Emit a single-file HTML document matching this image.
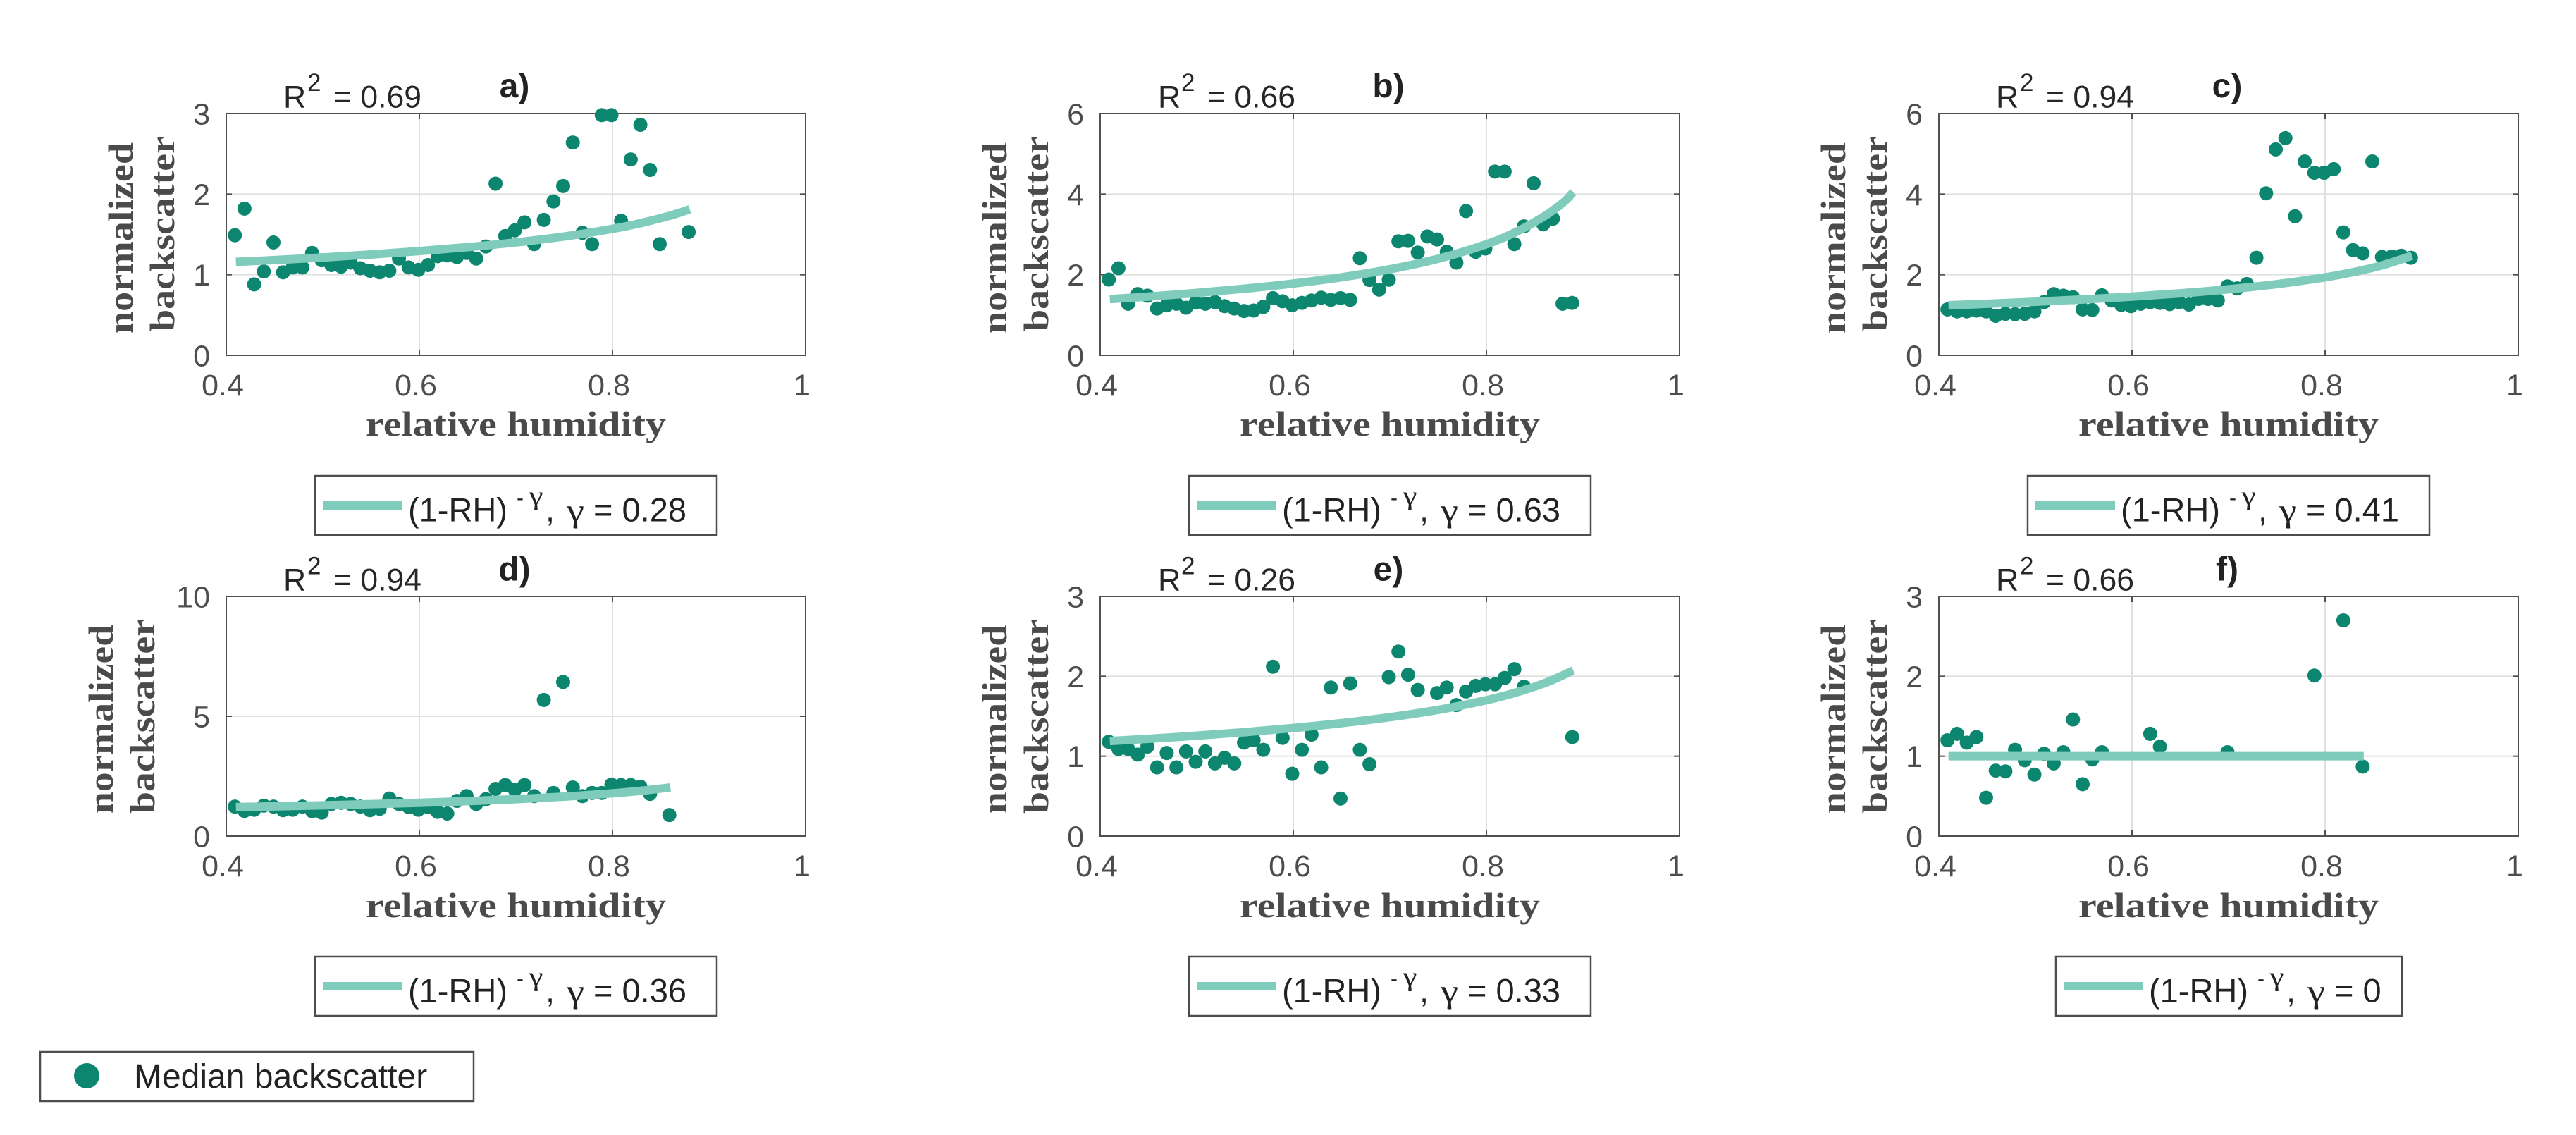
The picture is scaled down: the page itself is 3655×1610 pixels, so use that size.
<!DOCTYPE html>
<html lang="en">
<head>
<meta charset="utf-8">
<title>Normalized backscatter vs relative humidity</title>
<style>
html,body{margin:0;padding:0;background:#fff;}
svg{display:block;}
text{font-family:"Liberation Sans",sans-serif;}
.tick{font-size:43px;fill:#4d4d4d;}
.lab{font-family:"Liberation Serif",serif;font-weight:bold;font-size:50px;fill:#4a4a4a;}
.ttl{font-weight:bold;font-size:48px;fill:#222;text-anchor:middle;}
.r2{font-size:44.5px;fill:#262626;}
.r2s{font-size:35px;fill:#262626;}
.leg{font-size:47px;fill:#222;}
.legs{font-size:30px;fill:#222;}
.gam{font-family:"Liberation Serif",serif;font-size:47px;fill:#222;}
.gams{font-family:"Liberation Serif",serif;font-size:38px;fill:#222;}
.box{fill:#fff;stroke:#4d4d4d;stroke-width:2.5;}
</style>
</head>
<body>
<svg id="chart" xmlns="http://www.w3.org/2000/svg" width="3655" height="1610" viewBox="0 0 3655 1610">
<rect width="3655" height="1610" fill="#fff"/>

<g id="panel-a" transform="translate(321,161)">
  <g class="plot"></g>
  <text class="ttl" x="409" y="-23">a)</text>
  <text class="r2" x="81" y="-8.5">R</text>
  <text class="r2s" x="115" y="-32">2</text>
  <text class="r2" x="152" y="-8.5">= 0.69</text>
  <text class="lab" x="198" y="457" textLength="426" lengthAdjust="spacingAndGlyphs">relative humidity</text>
  <text class="lab" transform="translate(-133,312) rotate(-90)" textLength="271" lengthAdjust="spacingAndGlyphs">normalized</text>
  <text class="lab" transform="translate(-74,309) rotate(-90)" textLength="277" lengthAdjust="spacingAndGlyphs">backscatter</text>
  <g transform="translate(126,514)">
    <rect class="box" width="570" height="84"/>
    <line x1="11" x2="124" y1="42" y2="42" stroke="#80ccbc" stroke-width="12"/>
    <text class="leg" x="132" y="64.3">(1-RH)</text>
    <text class="legs" x="286" y="41">-</text>
    <text class="gams" x="303.5" y="41" textLength="20" lengthAdjust="spacingAndGlyphs">γ</text>
    <text class="leg" x="327" y="64.3">,</text>
    <text class="gam" x="357" y="64.3" textLength="25" lengthAdjust="spacingAndGlyphs">γ</text>
    <text class="leg" x="395" y="64.3">= 0.28</text>
  </g>
</g>

<g id="panel-b" transform="translate(1561,161)">
  <g class="plot"></g>
  <text class="ttl" x="409" y="-23">b)</text>
  <text class="r2" x="82" y="-8.5">R</text>
  <text class="r2s" x="115" y="-32">2</text>
  <text class="r2" x="152" y="-8.5">= 0.66</text>
  <text class="lab" x="198" y="457" textLength="426" lengthAdjust="spacingAndGlyphs">relative humidity</text>
  <text class="lab" transform="translate(-133,312) rotate(-90)" textLength="271" lengthAdjust="spacingAndGlyphs">normalized</text>
  <text class="lab" transform="translate(-74,309) rotate(-90)" textLength="277" lengthAdjust="spacingAndGlyphs">backscatter</text>
  <g transform="translate(126,514)">
    <rect class="box" width="570" height="84"/>
    <line x1="11" x2="124" y1="42" y2="42" stroke="#80ccbc" stroke-width="12"/>
    <text class="leg" x="132" y="64.3">(1-RH)</text>
    <text class="legs" x="286" y="41">-</text>
    <text class="gams" x="303.5" y="41" textLength="20" lengthAdjust="spacingAndGlyphs">γ</text>
    <text class="leg" x="327" y="64.3">,</text>
    <text class="gam" x="357" y="64.3" textLength="25" lengthAdjust="spacingAndGlyphs">γ</text>
    <text class="leg" x="395" y="64.3">= 0.63</text>
  </g>
</g>

<g id="panel-c" transform="translate(2751,161)">
  <g class="plot"></g>
  <text class="ttl" x="409" y="-23">c)</text>
  <text class="r2" x="81" y="-8.5">R</text>
  <text class="r2s" x="115" y="-32">2</text>
  <text class="r2" x="152" y="-8.5">= 0.94</text>
  <text class="lab" x="198" y="457" textLength="426" lengthAdjust="spacingAndGlyphs">relative humidity</text>
  <text class="lab" transform="translate(-133,312) rotate(-90)" textLength="271" lengthAdjust="spacingAndGlyphs">normalized</text>
  <text class="lab" transform="translate(-74,309) rotate(-90)" textLength="277" lengthAdjust="spacingAndGlyphs">backscatter</text>
  <g transform="translate(126,514)">
    <rect class="box" width="570" height="84"/>
    <line x1="11" x2="124" y1="42" y2="42" stroke="#80ccbc" stroke-width="12"/>
    <text class="leg" x="132" y="64.3">(1-RH)</text>
    <text class="legs" x="286" y="41">-</text>
    <text class="gams" x="303.5" y="41" textLength="20" lengthAdjust="spacingAndGlyphs">γ</text>
    <text class="leg" x="327" y="64.3">,</text>
    <text class="gam" x="357" y="64.3" textLength="25" lengthAdjust="spacingAndGlyphs">γ</text>
    <text class="leg" x="395" y="64.3">= 0.41</text>
  </g>
</g>

<g id="panel-d" transform="translate(321,846)">
  <g class="plot"></g>
  <text class="ttl" x="409" y="-22.5">d)</text>
  <text class="r2" x="81" y="-8.5">R</text>
  <text class="r2s" x="115" y="-31.5">2</text>
  <text class="r2" x="152" y="-8.5">= 0.94</text>
  <text class="lab" x="198" y="455" textLength="426" lengthAdjust="spacingAndGlyphs">relative humidity</text>
  <text class="lab" transform="translate(-161,308) rotate(-90)" textLength="268" lengthAdjust="spacingAndGlyphs">normalized</text>
  <text class="lab" transform="translate(-102,308) rotate(-90)" textLength="276" lengthAdjust="spacingAndGlyphs">backscatter</text>
  <g transform="translate(126,511)">
    <rect class="box" width="570" height="84"/>
    <line x1="11" x2="124" y1="42" y2="42" stroke="#80ccbc" stroke-width="12"/>
    <text class="leg" x="132" y="64.3">(1-RH)</text>
    <text class="legs" x="286" y="41">-</text>
    <text class="gams" x="303.5" y="41" textLength="20" lengthAdjust="spacingAndGlyphs">γ</text>
    <text class="leg" x="327" y="64.3">,</text>
    <text class="gam" x="357" y="64.3" textLength="25" lengthAdjust="spacingAndGlyphs">γ</text>
    <text class="leg" x="395" y="64.3">= 0.36</text>
  </g>
</g>

<g id="panel-e" transform="translate(1561,846)">
  <g class="plot"></g>
  <text class="ttl" x="409" y="-22.5">e)</text>
  <text class="r2" x="82" y="-8.5">R</text>
  <text class="r2s" x="115" y="-31.5">2</text>
  <text class="r2" x="152" y="-8.5">= 0.26</text>
  <text class="lab" x="198" y="455" textLength="426" lengthAdjust="spacingAndGlyphs">relative humidity</text>
  <text class="lab" transform="translate(-133,308) rotate(-90)" textLength="268" lengthAdjust="spacingAndGlyphs">normalized</text>
  <text class="lab" transform="translate(-74,308) rotate(-90)" textLength="276" lengthAdjust="spacingAndGlyphs">backscatter</text>
  <g transform="translate(126,511)">
    <rect class="box" width="570" height="84"/>
    <line x1="11" x2="124" y1="42" y2="42" stroke="#80ccbc" stroke-width="12"/>
    <text class="leg" x="132" y="64.3">(1-RH)</text>
    <text class="legs" x="286" y="41">-</text>
    <text class="gams" x="303.5" y="41" textLength="20" lengthAdjust="spacingAndGlyphs">γ</text>
    <text class="leg" x="327" y="64.3">,</text>
    <text class="gam" x="357" y="64.3" textLength="25" lengthAdjust="spacingAndGlyphs">γ</text>
    <text class="leg" x="395" y="64.3">= 0.33</text>
  </g>
</g>

<g id="panel-f" transform="translate(2751,846)">
  <g class="plot"></g>
  <text class="ttl" x="409" y="-22.5">f)</text>
  <text class="r2" x="81" y="-8.5">R</text>
  <text class="r2s" x="115" y="-31.5">2</text>
  <text class="r2" x="152" y="-8.5">= 0.66</text>
  <text class="lab" x="198" y="455" textLength="426" lengthAdjust="spacingAndGlyphs">relative humidity</text>
  <text class="lab" transform="translate(-133,308) rotate(-90)" textLength="268" lengthAdjust="spacingAndGlyphs">normalized</text>
  <text class="lab" transform="translate(-74,308) rotate(-90)" textLength="276" lengthAdjust="spacingAndGlyphs">backscatter</text>
  <g transform="translate(166,511)">
    <rect class="box" width="491" height="84"/>
    <line x1="11" x2="124" y1="42" y2="42" stroke="#80ccbc" stroke-width="12"/>
    <text class="leg" x="132" y="64.3">(1-RH)</text>
    <text class="legs" x="286" y="41">-</text>
    <text class="gams" x="303.5" y="41" textLength="20" lengthAdjust="spacingAndGlyphs">γ</text>
    <text class="leg" x="327" y="64.3">,</text>
    <text class="gam" x="357" y="64.3" textLength="25" lengthAdjust="spacingAndGlyphs">γ</text>
    <text class="leg" x="395" y="64.3">= 0</text>
  </g>
</g>

<g>
  <rect class="box" x="57" y="1492" width="615" height="70"/>
  <circle cx="123" cy="1526" r="18" fill="#0d8670"/>
  <text x="190" y="1543" font-size="48" fill="#222">Median backscatter</text>
</g>
</svg>

<script>
// x-axis ticks, shared by all panels
const xTicks = [0.4, 0.6, 0.8, 1];
const xTickLabels = ['0.4', '0.6', '0.8', '1'];

// y-axis ticks and labels
const yTicksA = [0, 1, 2, 3];
const yTicksB = [0, 2, 4, 6];
const yTicksC = [0, 2, 4, 6];
const yTicksD = [0, 5, 10];
const yTicksE = [0, 1, 2, 3];
const yTicksF = [0, 1, 2, 3];

// Panel a: median backscatter
const rhA = [0.41,0.42,0.43,0.44,0.45,0.46,0.47,0.48,0.49,0.50,0.51,0.52,0.53,0.54,0.55,0.56,0.57,0.58,0.59,0.60,0.61,0.62,0.63,0.64,0.65,0.66,0.67,0.68,0.69,0.70,0.71,0.72,0.73,0.74,0.75,0.76,0.77,0.78,0.79,0.80,0.81,0.82,0.83,0.84,0.85,0.88];
const medianA = [1.49,1.82,0.88,1.04,1.40,1.03,1.09,1.09,1.27,1.18,1.12,1.10,1.15,1.08,1.05,1.03,1.05,1.20,1.09,1.06,1.12,1.23,1.24,1.22,1.27,1.20,1.35,2.13,1.48,1.55,1.65,1.38,1.68,1.91,2.10,2.64,1.52,1.38,2.98,2.98,1.67,2.43,2.86,2.30,1.38,1.53];

// Panel b: median backscatter
const rhB = [0.41,0.42,0.43,0.44,0.45,0.46,0.47,0.48,0.49,0.50,0.51,0.52,0.53,0.54,0.55,0.56,0.57,0.58,0.59,0.60,0.61,0.62,0.63,0.64,0.65,0.66,0.67,0.68,0.69,0.70,0.71,0.72,0.73,0.74,0.75,0.76,0.77,0.78,0.79,0.80,0.81,0.82,0.83,0.84,0.85,0.86,0.87,0.88,0.89];
const medianB = [1.88,2.16,1.28,1.52,1.48,1.16,1.24,1.28,1.18,1.31,1.28,1.32,1.22,1.16,1.10,1.11,1.20,1.42,1.34,1.24,1.30,1.36,1.43,1.375,1.42,1.375,2.41,1.87,1.63,1.875,2.83,2.84,2.55,2.95,2.875,2.57,2.30,3.58,2.57,2.65,4.56,4.56,2.76,3.20,4.27,3.25,3.39,1.28,1.30];

// Panel c: median backscatter
const rhC = [0.41,0.42,0.43,0.44,0.45,0.46,0.47,0.48,0.49,0.50,0.51,0.52,0.53,0.54,0.55,0.56,0.57,0.58,0.59,0.60,0.61,0.62,0.63,0.64,0.65,0.66,0.67,0.68,0.69,0.70,0.71,0.72,0.73,0.74,0.75,0.76,0.77,0.78,0.79,0.80,0.81,0.82,0.83,0.84,0.85,0.86,0.87,0.88,0.89];
const medianC = [1.14,1.09,1.09,1.11,1.09,0.98,1.03,1.02,1.03,1.09,1.32,1.52,1.48,1.44,1.14,1.125,1.49,1.36,1.25,1.22,1.28,1.32,1.30,1.27,1.32,1.26,1.40,1.40,1.36,1.71,1.66,1.77,2.42,4.02,5.11,5.39,3.45,4.81,4.53,4.53,4.62,3.05,2.61,2.53,4.81,2.44,2.45,2.47,2.42];

// Panel d: median backscatter
const rhD = [0.41,0.42,0.43,0.44,0.45,0.46,0.47,0.48,0.49,0.50,0.51,0.52,0.53,0.54,0.55,0.56,0.57,0.58,0.59,0.60,0.61,0.62,0.63,0.64,0.65,0.66,0.67,0.68,0.69,0.70,0.71,0.72,0.73,0.74,0.75,0.76,0.77,0.78,0.79,0.80,0.81,0.82,0.83,0.84,0.86];
const medianD = [1.23,1.05,1.10,1.27,1.23,1.08,1.10,1.23,1.04,0.98,1.34,1.39,1.34,1.23,1.08,1.14,1.57,1.34,1.21,1.10,1.21,1.01,0.94,1.47,1.67,1.34,1.54,1.97,2.13,1.93,2.13,1.67,5.68,1.80,6.43,2.03,1.67,1.80,1.80,2.15,2.13,2.13,2.06,1.76,0.88];

// Panel e: median backscatter
const rhE = [0.41,0.42,0.43,0.44,0.45,0.46,0.47,0.48,0.49,0.50,0.51,0.52,0.53,0.54,0.55,0.56,0.57,0.58,0.59,0.60,0.61,0.62,0.63,0.64,0.65,0.66,0.67,0.68,0.70,0.71,0.72,0.73,0.75,0.76,0.77,0.78,0.79,0.80,0.81,0.82,0.83,0.84,0.89];
const medianE = [1.18,1.09,1.09,1.02,1.12,0.86,1.04,0.86,1.06,0.93,1.06,0.91,0.98,0.91,1.17,1.20,1.08,2.12,1.23,0.78,1.08,1.27,0.86,1.86,0.47,1.91,1.08,0.90,1.99,2.31,2.02,1.83,1.79,1.86,1.64,1.81,1.88,1.90,1.90,1.98,2.09,1.87,1.24];

// Panel f: median backscatter
const rhF = [0.41,0.42,0.43,0.44,0.45,0.46,0.47,0.48,0.49,0.50,0.51,0.52,0.53,0.54,0.55,0.56,0.57,0.62,0.63,0.70,0.79,0.82,0.84];
const medianF = [1.20,1.28,1.17,1.24,0.48,0.82,0.81,1.08,0.95,0.77,1.03,0.91,1.05,1.46,0.65,0.96,1.05,1.28,1.12,1.05,2.01,2.70,0.87];

// Fitted curves
const fitRhA = [0.41,0.45,0.50,0.55,0.60,0.65,0.70,0.75,0.80,0.83,0.86,0.88];
const fitValA = [1.159,1.182,1.214,1.251,1.293,1.342,1.401,1.474,1.569,1.642,1.734,1.811];
const fitRhB = [0.41,0.45,0.50,0.55,0.60,0.65,0.70,0.75,0.80,0.83,0.86,0.88,0.89];
const fitValB = [1.394,1.457,1.548,1.654,1.781,1.937,2.135,2.395,2.756,3.054,3.451,3.80,4.05];
const fitRhC = [0.41,0.45,0.50,0.55,0.60,0.65,0.70,0.75,0.80,0.83,0.86,0.89];
const fitValC = [1.241,1.278,1.329,1.387,1.456,1.538,1.638,1.765,1.935,2.068,2.239,2.472];
const fitRhD = [0.41,0.45,0.50,0.55,0.60,0.65,0.70,0.75,0.80,0.83,0.86];
const fitValD = [1.209,1.240,1.283,1.333,1.391,1.459,1.542,1.647,1.785,1.893,2.029];
const fitRhE = [0.41,0.45,0.50,0.55,0.60,0.65,0.70,0.75,0.80,0.83,0.86,0.89];
const fitValE = [1.190,1.218,1.257,1.301,1.353,1.414,1.488,1.580,1.701,1.795,1.913,2.072];
const fitRhF = [0.41,0.84];
const fitValF = [1,1];

const SVG_NS = 'http://www.w3.org/2000/svg';
const PLOT_W = 822;
const AXIS_COLOR = '#505050';
const GRID_COLOR = '#e0e0e0';

function mk(tag, parent) {
  const el = document.createElementNS(SVG_NS, tag);
  parent.appendChild(el);
  return el;
}

function smoothPath(pts) {
  let d = 'M' + pts[0][0] + ',' + pts[0][1];
  for (let i = 0; i < pts.length - 1; i++) {
    const p0 = pts[Math.max(0, i - 1)];
    const p1 = pts[i];
    const p2 = pts[i + 1];
    const p3 = pts[Math.min(pts.length - 1, i + 2)];
    const c1x = p1[0] + (p2[0] - p0[0]) / 6;
    const c1y = p1[1] + (p2[1] - p0[1]) / 6;
    const c2x = p2[0] - (p3[0] - p1[0]) / 6;
    const c2y = p2[1] - (p3[1] - p1[1]) / 6;
    d += ' C' + c1x + ',' + c1y + ' ' + c2x + ',' + c2y + ' ' + p2[0] + ',' + p2[1];
  }
  return d;
}

function drawPanel(id, plotH, yTicks, rh, median, fitRh, fitVal) {
  const plot = document.querySelector('#panel-' + id + ' .plot');
  const yMax = yTicks[yTicks.length - 1];
  const xScale = function (v) { return (v - 0.4) / 0.6 * PLOT_W; };
  const yScale = function (v) { return plotH - v / yMax * plotH; };

  const bg = mk('rect', plot);
  bg.setAttribute('width', PLOT_W);
  bg.setAttribute('height', plotH);
  bg.setAttribute('fill', '#fff');
  
  

  xTicks.forEach(function (t, i) {
    const x = xScale(t);
    if (t > 0.4 && t < 1) {
      const g = mk('line', plot);
      g.setAttribute('x1', x);
      g.setAttribute('x2', x);
      g.setAttribute('y1', 0);
      g.setAttribute('y2', plotH);
      g.setAttribute('stroke', GRID_COLOR);
      g.setAttribute('stroke-width', 2);
      
      
      [[0, 8], [plotH, plotH - 8]].forEach(function (pair) {
        const m = mk('line', plot);
        m.setAttribute('x1', x);
        m.setAttribute('x2', x);
        m.setAttribute('y1', pair[0]);
        m.setAttribute('y2', pair[1]);
        m.setAttribute('stroke', AXIS_COLOR);
        m.setAttribute('stroke-width', 2);
        
        
      });
    }
    const lab = mk('text', plot);
    lab.setAttribute('class', 'tick');
    lab.setAttribute('x', x - 5);
    lab.setAttribute('y', plotH + 57);
    lab.setAttribute('text-anchor', 'middle');
    lab.textContent = xTickLabels[i];
    
    
  });

  yTicks.forEach(function (t) {
    const y = yScale(t);
    if (t > 0 && t < yMax) {
      const g = mk('line', plot);
      g.setAttribute('x1', 0);
      g.setAttribute('x2', PLOT_W);
      g.setAttribute('y1', y);
      g.setAttribute('y2', y);
      g.setAttribute('stroke', GRID_COLOR);
      g.setAttribute('stroke-width', 2);
      
      
      [[0, 8], [PLOT_W, PLOT_W - 8]].forEach(function (pair) {
        const m = mk('line', plot);
        m.setAttribute('x1', pair[0]);
        m.setAttribute('x2', pair[1]);
        m.setAttribute('y1', y);
        m.setAttribute('y2', y);
        m.setAttribute('stroke', AXIS_COLOR);
        m.setAttribute('stroke-width', 2);
        
        
      });
    }
    const lab = mk('text', plot);
    lab.setAttribute('class', 'tick');
    lab.setAttribute('x', -23);
    lab.setAttribute('y', y + 15.5);
    lab.setAttribute('text-anchor', 'end');
    lab.textContent = String(t);
    
    
  });

  const frame = mk('rect', plot);
  frame.setAttribute('width', PLOT_W);
  frame.setAttribute('height', plotH);
  frame.setAttribute('fill', 'none');
  frame.setAttribute('stroke', AXIS_COLOR);
  frame.setAttribute('stroke-width', 2);
  
  

  rh.forEach(function (x, i) {
    const dot = mk('circle', plot);
    dot.setAttribute('cx', xScale(x) - 1.5);
    dot.setAttribute('cy', yScale(median[i]));
    dot.setAttribute('r', 10);
    dot.setAttribute('fill', '#0d8670');
    
    
  });

  const pts = fitRh.map(function (x, i) { return [xScale(x), yScale(fitVal[i])]; });
  const fit = mk('path', plot);
  fit.setAttribute('d', smoothPath(pts));
  fit.setAttribute('fill', 'none');
  fit.setAttribute('stroke', '#80ccbc');
  fit.setAttribute('stroke-width', 12);
  
  
}

drawPanel('a', 343, yTicksA, rhA, medianA, fitRhA, fitValA);
drawPanel('b', 343, yTicksB, rhB, medianB, fitRhB, fitValB);
drawPanel('c', 343, yTicksC, rhC, medianC, fitRhC, fitValC);
drawPanel('d', 340, yTicksD, rhD, medianD, fitRhD, fitValD);
drawPanel('e', 340, yTicksE, rhE, medianE, fitRhE, fitValE);
drawPanel('f', 340, yTicksF, rhF, medianF, fitRhF, fitValF);
</script>
</body>
</html>
